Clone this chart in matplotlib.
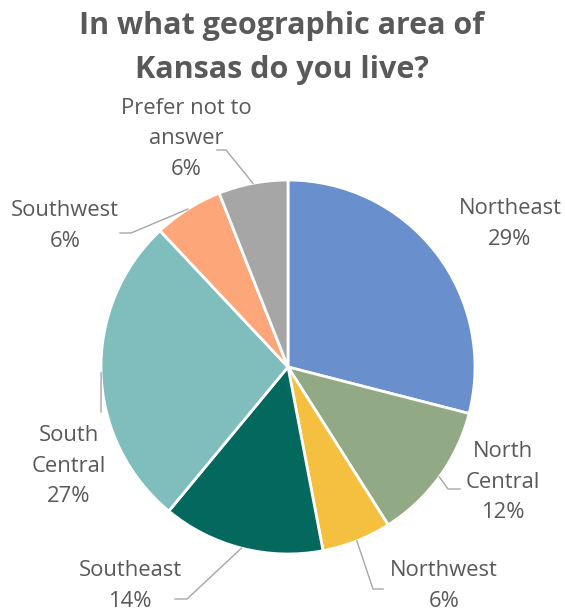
import numpy as np
import matplotlib
matplotlib.use("Agg")
import matplotlib.pyplot as plt

# survey answers, clockwise from the top
areas = ["Northeast", "North Central", "Northwest", "Southeast",
         "South Central", "Southwest", "Prefer not to answer"]
shares = [29, 12, 6, 14, 27, 6, 6]
colors = ["#6a8fcd", "#91a985", "#f5c040", "#03695f",
          "#80bdbd", "#fda67a", "#a6a6a6"]
label_text = ["Northeast\n29%", "North\nCentral\n12%", "Northwest\n6%",
              "Southeast\n14%", "South\nCentral\n27%", "Southwest\n6%",
              "Prefer not to\nanswer\n6%"]

# work in pixel units, y pointing down
W, H = 565, 613
cx, cy, R = 288, 367, 187
label_pos = [(510, 224), (503, 482), (444, 586), (130, 586),
             (69, 466), (65, 226), (186, 139)]
# leader lines: (elbow, end) for each slice, None where there is no line
leaders = [None, ((448, 489), (460, 489)), ((373, 589), (383, 589)),
           ((187, 599), (175, 599)), (None, (101, 412)),
           ((131, 233), (120, 233)), ((226, 150), (217, 150))]

txt = "#595959"
plt.rcParams['font.family'] = ['Open Sans', 'DejaVu Sans']

fig = plt.figure(figsize=(W / 100, H / 100), dpi=100)
ax = fig.add_axes([0, 0, 1, 1])

ax.pie(shares, colors=colors, center=(cx, cy), radius=R,
       startangle=-90, counterclock=True,
       wedgeprops=dict(edgecolor='white', linewidth=2))

# pie() sets its own limits, so fix the pixel frame afterwards
ax.set_xlim(0, W)
ax.set_ylim(H, 0)
ax.set_aspect('equal')
ax.axis('off')

# leader lines start on the rim at each slice's mid angle
cum = np.cumsum([0] + shares)
for i, ld in enumerate(leaders):
    if ld is None:
        continue
    mid = (cum[i] + cum[i + 1]) / 2 / sum(shares) * 2 * np.pi
    sx = cx + R * np.sin(mid)
    sy = cy - R * np.cos(mid)
    elbow, end = ld
    pts = [(sx, sy)] + ([elbow] if elbow else []) + [end]
    ax.plot([p[0] for p in pts], [p[1] for p in pts], color="#a6a6a6", lw=1)

for t, (x, y) in zip(label_text, label_pos):
    ax.text(x, y, t, ha='center', va='center', fontsize=15.8, color=txt,
            linespacing=1.6)

ax.text(282, 48, "In what geographic area of\nKansas do you live?",
        ha='center', va='center', fontsize=22, fontweight='bold', color=txt,
        linespacing=1.6)

fig.savefig("out.png", dpi=100)
